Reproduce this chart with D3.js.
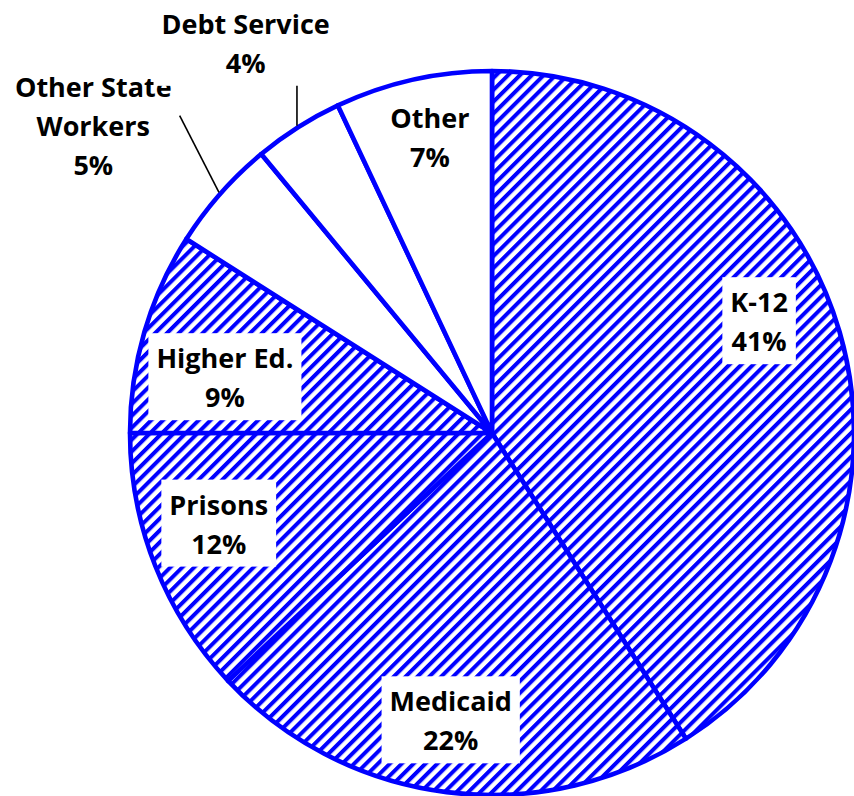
<!DOCTYPE html>
<html>
<head>
<meta charset="utf-8">
<script src="https://cdn.jsdelivr.net/npm/d3@7"></script>
<style>
  html, body { margin: 0; padding: 0; background: #fff; }
  svg { display: block; }
</style>
</head>
<body>
<svg id="chart" width="854" height="796"></svg>
<script>
// Budget shares by spending area (percent of total)
const categories = ["K-12", "Medicaid", "Prisons", "Higher Ed.", "Other State Workers", "Debt Service", "Other"];
const shares = [41, 22, 12, 9, 5, 4, 7];
const hatched = [true, true, true, true, false, false, false];
const labelLines = [["K-12"], ["Medicaid"], ["Prisons"], ["Higher Ed."], ["Other State", "Workers"], ["Debt Service"], ["Other"]];

// Label placement: radial factor along the slice's mid-angle plus a small nudge
const labelLayout = {
  "K-12":                { k: 0.80, dx: -11, dy: -30 },
  "Medicaid":            { k: 0.80, dx: -5,  dy: 1 },
  "Prisons":             { k: 0.80, dx: -4,  dy: -15 },
  "Higher Ed.":          { k: 0.80, dx: 11,  dy: 26 },
  "Other":               { k: 0.80, dx: 1,   dy: -12 },
  "Debt Service":        { k: 1.27, dx: 0,   dy: -1,  leader: "vertical" },
  "Other State Workers": { k: 1.38, dx: -24, dy: 24,  leader: "toBox", ly: -11 }
};

const W = 854, H = 796;
const cx = 492, cy = 433, R = 362;
const blue = "#0000ff";
const fontSize = 27, lineGap = 39, capH = 19;

const svg = d3.select("#chart");
const defs = svg.append("defs");

// Upward diagonal hatch
const step = 8.4, stripe = 4.0;
const pat = defs.append("pattern")
  .attr("id", "hatch")
  .attr("patternUnits", "userSpaceOnUse")
  .attr("width", step).attr("height", step)
  .attr("patternTransform", "rotate(45)");
pat.append("rect").attr("width", step).attr("height", step).attr("fill", "#fff");
pat.append("rect").attr("x", 0).attr("y", 0).attr("width", stripe).attr("height", step).attr("fill", blue);

const data = categories.map((c, i) => ({ name: c, value: shares[i], hatched: hatched[i], lines: labelLines[i] }));

const pie = d3.pie().sort(null).value(d => d.value).startAngle(0).endAngle(2 * Math.PI);
const arcs = pie(data);
const arc = d3.arc().innerRadius(0).outerRadius(R);

const g = svg.append("g").attr("transform", `translate(${cx},${cy})`);

g.selectAll("path.slice")
  .data(arcs)
  .join("path")
  .attr("class", "slice")
  .attr("d", arc)
  .attr("fill", d => d.data.hatched ? "url(#hatch)" : "#fff")
  .attr("stroke", blue)
  .attr("stroke-width", 4.6)
  .attr("stroke-linejoin", "round");

// Labels
const labels = svg.append("g")
  .attr("font-family", "'Open Sans', Lato, sans-serif")
  .attr("font-weight", 700)
  .attr("font-size", fontSize)
  .attr("fill", "#000");

arcs.forEach(a => {
  const lay = labelLayout[a.data.name];
  const mid = (a.startAngle + a.endAngle) / 2;
  const pr = R * lay.k;
  const lx = cx + pr * Math.sin(mid) + lay.dx;
  const lyc = cy - pr * Math.cos(mid) + lay.dy;
  const lines = a.data.lines.concat([a.data.value + "%"]);
  const n = lines.length;
  const y0 = lyc + capH / 2 - (lineGap / 2) * (n - 1);

  const grp = labels.append("g");
  const box = grp.append("rect").attr("fill", "#fff");
  const txt = grp.append("text").attr("text-anchor", "middle");
  lines.forEach((t, i) => {
    txt.append("tspan").attr("x", lx).attr("y", y0 + i * lineGap).text(t);
  });
  const bb = txt.node().getBBox();
  const padX = 8;
  box.attr("x", bb.x - padX)
    .attr("y", y0 - capH - 16)
    .attr("width", bb.width + 2 * padX)
    .attr("height", (y0 + (n - 1) * lineGap + 13) - (y0 - capH - 16));

  if (lay.leader) {
    const sx = cx + (R + 2) * Math.sin(mid);
    const sy = cy - (R + 2) * Math.cos(mid);
    let ex, ey;
    if (lay.leader === "vertical") {
      ex = sx;
      ey = y0 + (n - 1) * lineGap + 13;
    } else {
      ex = bb.x + bb.width + padX;
      ey = lyc + lay.ly;
    }
    svg.append("line")
      .attr("x1", sx).attr("y1", sy).attr("x2", ex).attr("y2", ey)
      .attr("stroke", "#000").attr("stroke-width", 1.6);
  }
});
</script>
</body>
</html>
